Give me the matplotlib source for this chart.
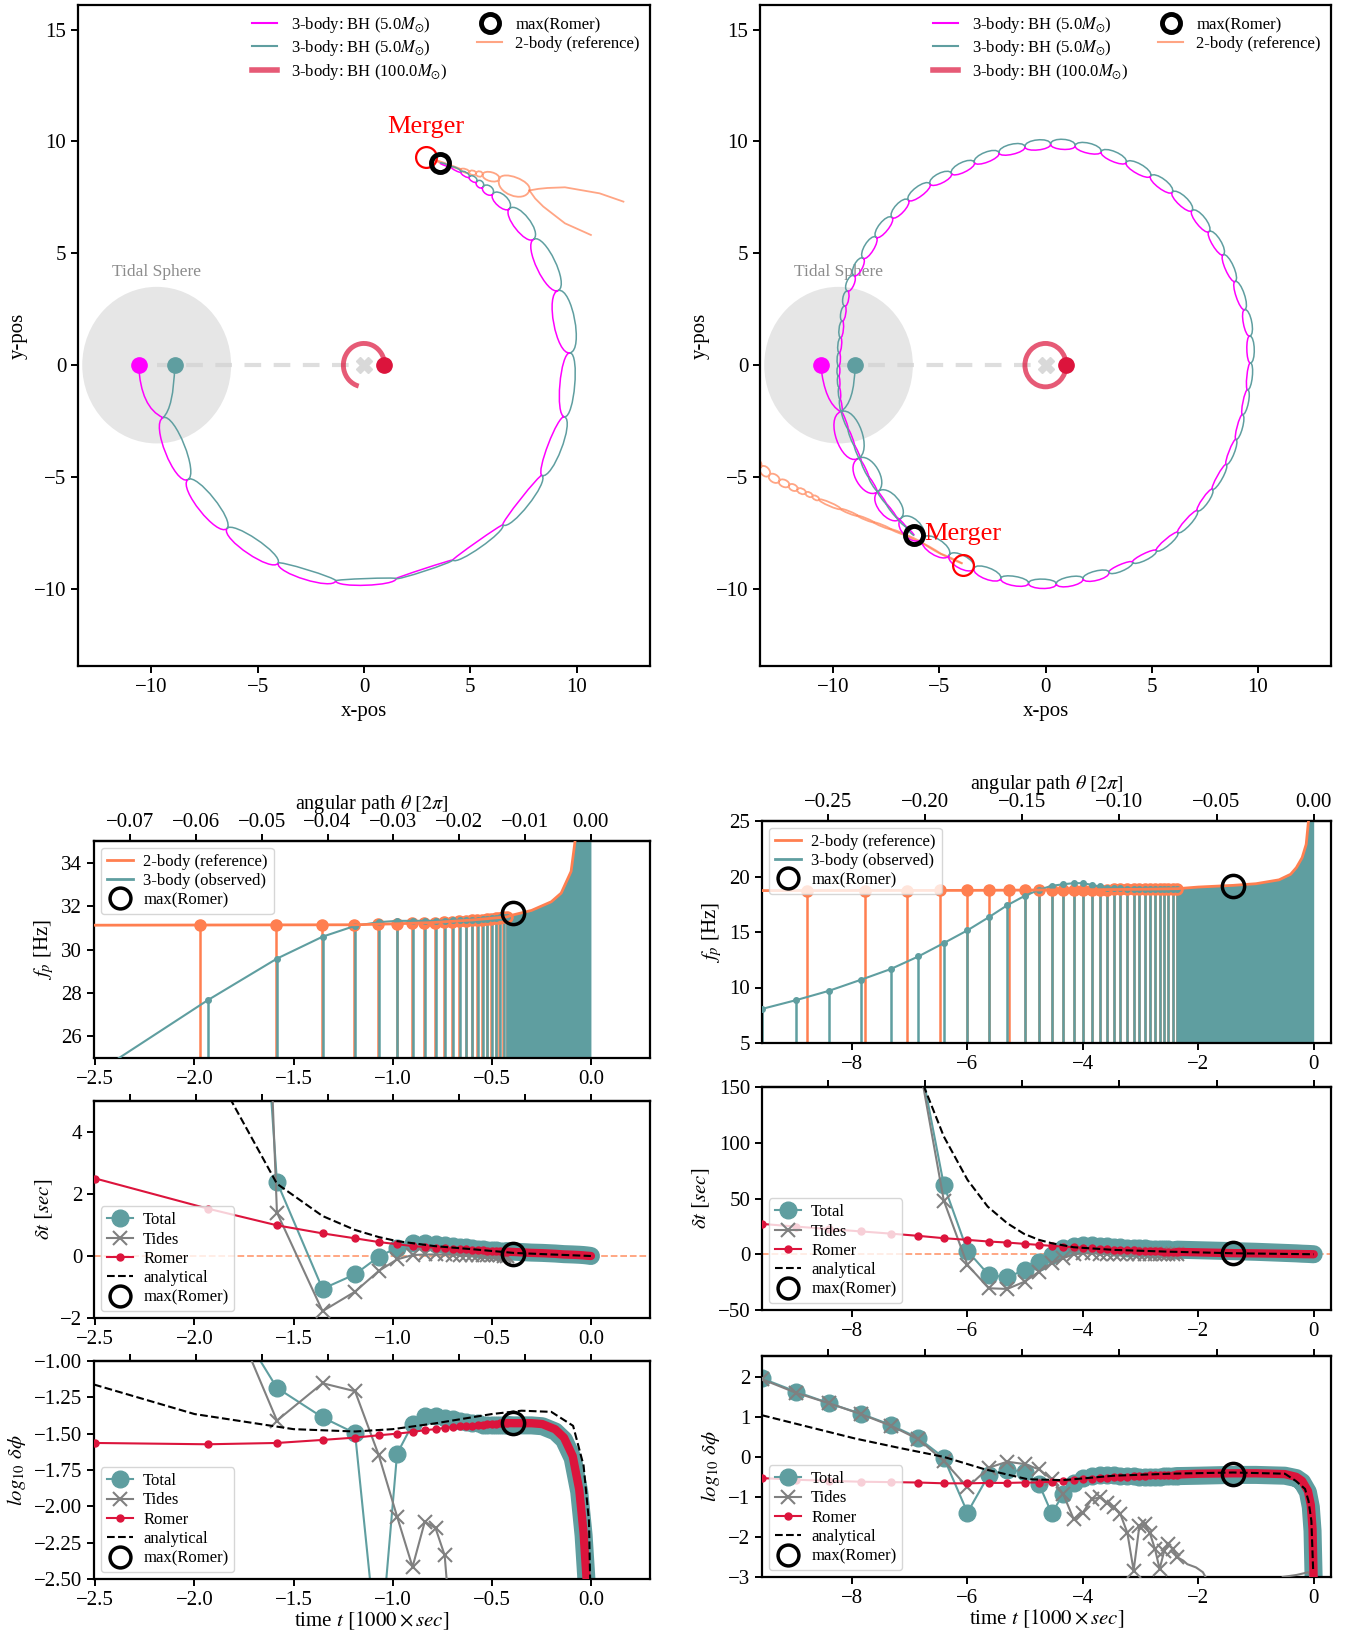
import numpy as np
import matplotlib
matplotlib.use('Agg')
import matplotlib.pyplot as plt
from matplotlib.path import Path
from matplotlib.patches import PathPatch, Circle, Arc
from matplotlib.lines import Line2D

plt.rcParams['font.family'] = ['Liberation Serif', 'DejaVu Serif']
plt.rcParams['mathtext.fontset'] = 'stix'
plt.rcParams['axes.linewidth'] = 1.6
plt.rcParams['xtick.major.width'] = 1.4
plt.rcParams['ytick.major.width'] = 1.4
plt.rcParams['xtick.major.size'] = 5
plt.rcParams['ytick.major.size'] = 5
plt.rcParams['xtick.labelsize'] = 15
plt.rcParams['ytick.labelsize'] = 15

MAG = 'magenta'
TEAL = 'cadetblue'
CRIM = 'crimson'
ORA = 'coral'

##################################################
# orbit panels: cusp points of the looping trajectories
##################################################
# left: merger after < 1 revolution
L_cx = [-9.45, -8.29, -6.45, -4.04, -1.33, 1.51, 4.18, 6.53, 8.37, 9.43, 9.69,
        9.14, 7.98, 6.84, 6.06, 5.59, 5.30, 4.95, 4.56, 4.10, 3.58]
L_cy = [-2.35, -5.12, -7.31, -8.85, -9.64, -9.54, -8.71, -7.14, -4.93, -2.31, 0.55,
        3.34, 5.63, 7.00, 7.66, 7.96, 8.20, 8.41, 8.63, 8.85, 9.03]
L_bulge_t = [0.45, 0.40, 0.35, 0.10, 0.05, -0.08, -0.25, -0.35, -0.40, -0.35,
             -0.50, -0.45, -0.40, -0.30, -0.22, -0.17, -0.14, -0.11, -0.08, -0.05]
L_bulge_m = [-0.50, -0.45, -0.40, -0.35, -0.25, 0.03, 0.05, 0.10, 0.25, 0.35,
             0.50, 0.45, 0.35, 0.25, 0.18, 0.14, 0.10, 0.08, 0.05, 0.03]
L_start_m = [(-10.6, 0.0), (-10.5, -1.9)]
L_start_t = [(-8.9, 0.0), (-8.95, -1.9)]
L_ref_cx = [3.15, 4.56, 4.95, 5.27, 5.58, 6.36, 7.78]
L_ref_cy = [9.22, 8.75, 8.63, 8.57, 8.52, 8.33, 7.81]
L_ref_up = [0.03, 0.08, 0.10, 0.12, 0.20, 0.33]
L_ref_lo = [-0.03, -0.08, -0.10, -0.12, -0.20, -0.50]
L_refA_x = [7.78, 8.2, 8.63, 9.45, 11.08, 12.2]
L_refA_y = [7.81, 7.88, 7.92, 7.95, 7.68, 7.31]
L_refB_x = [7.78, 8.05, 8.43, 9.45, 10.67]
L_refB_y = [7.81, 7.45, 7.09, 6.34, 5.82]
L_merger = (2.90, 9.29)
L_maxromer = (3.58, 9.03)
L_big_arc = 255  # degrees swept by the 100 Msun BH

# right: merger after > 1 revolution
R_cx = [-9.65, -8.86, -7.92, -6.82, -5.80, -4.54, -3.37, -2.11, -0.80, 0.51, 1.77,
        2.99, 4.10, 5.22, 6.23, 7.15, 7.86, 8.51, 8.97, 9.28, 9.52, 9.65, 9.62,
        9.38, 8.93, 8.37, 7.70, 6.90, 5.97, 4.95, 3.80, 2.62, 1.40, 0.24, -0.97,
        -2.19, -3.35, -4.43, -5.44, -6.46, -7.23, -7.98, -8.59, -9.02, -9.33, -9.45,
        -9.57, -9.65, -9.72, -9.74, -9.75, -9.72, -9.68, -9.60, -9.30, -9.00, -8.68,
        -8.33, -7.95, -7.50, -7.02, -6.60, -6.19]
R_cy = [-2.08, -4.19, -5.67, -6.86, -7.75, -8.50, -9.09, -9.54, -9.75, -9.78, -9.55,
        -9.26, -8.81, -8.29, -7.48, -6.51, -5.55, -4.44, -3.32, -2.21, -1.10, 0.10, 1.30,
        2.48, 3.74, 4.93, 5.97, 6.91, 7.73, 8.45, 9.06, 9.54, 9.81, 9.88, 9.76,
        9.49, 9.06, 8.57, 8.10, 7.38, 6.60, 5.72, 4.78, 4.00, 3.31, 2.64,
        1.97, 1.23, 0.56, -0.03, -0.48, -1.00, -1.52, -2.10, -2.85, -3.60, -4.30,
        -5.00, -5.60, -6.20, -6.80, -7.20, -7.61]
R_bulge_t = [0.62, 0.56, 0.50, 0.44, 0.36, 0.30, 0.26,
             0.20, 0.20, 0.20, 0.20,
             -0.18, -0.18, -0.18, -0.18, -0.18, -0.16, -0.16, -0.16, -0.16, -0.16,
             -0.20, -0.22, -0.22, -0.22, -0.24, -0.25, -0.25, -0.25, -0.25, -0.25, -0.25, -0.25,
             -0.25, -0.25, -0.25, -0.25, -0.25, -0.25, -0.25, -0.25, -0.25, -0.22,
             -0.20, -0.16, -0.14, -0.12, -0.10, -0.09, -0.08, -0.07, -0.06, -0.06,
             -0.05, -0.05, -0.05, -0.05, -0.05, -0.04, -0.04, -0.04, -0.04]
R_bulge_m = [-0.62, -0.56, -0.50, -0.44, -0.36, -0.30, -0.26,
             -0.22, -0.22, -0.22, -0.22,
             0.12, 0.12, 0.12, 0.12, 0.12, 0.10, 0.10, 0.10, 0.10, 0.10,
             0.15, 0.18, 0.18, 0.18, 0.18, 0.20, 0.20, 0.20, 0.20, 0.20, 0.20, 0.20,
             0.20, 0.20, 0.20, 0.20, 0.20, 0.20, 0.20, 0.20, 0.20, 0.18,
             0.16, 0.12, 0.10, 0.09, 0.08, 0.07, 0.06, 0.05, 0.05, 0.05,
             0.04, 0.04, 0.04, 0.04, 0.04, 0.03, 0.03, 0.03, 0.03]
R_start_m = [(-10.59, 0.0), (-10.4, -1.7)]
R_start_t = [(-8.97, 0.0), (-9.0, -1.7)]
R_ref_cx = [-13.8, -13.41, -13.02, -12.55, -12.08, -11.69, -11.30, -10.98, -10.67,
            -9.65, -8.86, -8.08, -7.30, -6.51, -5.73, -4.94, -3.91]
R_ref_cy = [-4.35, -4.56, -4.93, -5.19, -5.38, -5.56, -5.71, -5.86, -6.01,
            -6.43, -6.73, -7.03, -7.33, -7.62, -7.99, -8.43, -8.87]
R_ref_up = [0.22, 0.20, 0.18, 0.16, 0.14, 0.12, 0.10, 0.09, 0.08, 0.05,
            0.04, 0.04, 0.03, 0.03, 0.02, 0.02]
R_ref_lo = [-0.22, -0.20, -0.18, -0.16, -0.14, -0.12, -0.10, -0.09, -0.08, -0.05,
            -0.04, -0.04, -0.03, -0.03, -0.02, -0.02]
R_merger = (-3.88, -8.92)
R_maxromer = (-6.19, -7.61)
R_big_arc = 360

tidal_center = (-9.75, 0.0)
tidal_radius = 3.5
big_bh_start = (0.96, 0.0)
big_bh_radius = 0.97

##################################################
# time-domain panels  (t in 1000 sec)
##################################################
# ---------- left ----------
refT_L = [-1.970, -1.589, -1.357, -1.193, -1.072, -0.980, -0.902, -0.840, -0.786,
          -0.740, -0.700, -0.665, -0.632, -0.602, -0.573, -0.549, -0.525, -0.503,
          -0.481, -0.462, -0.442, -0.425]
refF_L = [31.12, 31.12, 31.13, 31.14, 31.16, 31.18, 31.20, 31.22, 31.24,
          31.26, 31.28, 31.30, 31.32, 31.34, 31.36, 31.38, 31.40, 31.42,
          31.44, 31.46, 31.48, 31.50]
refcurve_t_L = [-2.507, -1.2, -1.0, -0.8, -0.6, -0.425, -0.39, -0.3, -0.2, -0.15,
                -0.1, -0.08, -0.06, -0.04, 0.0]
refcurve_f_L = [31.12, 31.14, 31.18, 31.24, 31.36, 31.5, 31.6, 31.8, 32.2, 32.6,
                33.6, 35.0, 37.0, 40.0, 45.0]
obsT_L = [-2.500, -1.934, -1.584, -1.354, -1.190, -1.070, -0.978, -0.900, -0.838,
          -0.784, -0.738, -0.698, -0.663, -0.630, -0.600, -0.571, -0.547, -0.523,
          -0.501, -0.479, -0.460, -0.440, -0.423]
obsF_L = [24.29, 27.66, 29.58, 30.59, 31.09, 31.26, 31.32, 31.32, 31.32,
          31.32, 31.33, 31.34, 31.35, 31.36, 31.37, 31.38, 31.40, 31.42,
          31.44, 31.46, 31.48, 31.49, 31.50]
total_dt_L = [80, 35, 2.39, -1.06, -0.59, -0.02, 0.27, 0.41, 0.41, 0.38, 0.35, 0.32,
              0.30, 0.28, 0.26, 0.24, 0.22, 0.20, 0.19, 0.18, 0.17, 0.16, 0.15]
tides_dt_L = [90, 60, 1.40, -1.78, -1.15, -0.48, -0.11, 0.03, 0.05, 0.05, 0.05, 0.04,
              0.04, 0.03, 0.03, 0.03, 0.02, 0.02, 0.02, 0.02, 0.02, 0.01, 0.01]
romer_dt_L = [2.50, 1.53, 0.99, 0.73, 0.57, 0.45, 0.38, 0.32, 0.29, 0.27, 0.25, 0.23,
              0.22, 0.21, 0.20, 0.19, 0.18, 0.17, 0.16, 0.155, 0.15, 0.145, 0.14]
anaT_L = [-2.5, -1.934, -1.584, -1.354, -1.190, -1.070, -0.978, -0.79, -0.6, -0.39, -0.2, 0.0]
ana_dt_L = [16.0, 6.4, 2.33, 1.29, 0.84, 0.61, 0.48, 0.32, 0.22, 0.10, 0.05, 0.0]
total_lg_L = [-0.2, -0.41, -1.185, -1.388, -1.497, -3.1, -1.638, -1.435, -1.377, -1.377,
              -1.39, -1.40, -1.41, -1.42, -1.43, -1.43, -1.44, -1.44, -1.44, -1.44,
              -1.44, -1.44, -1.44]
tides_lg_L = [-0.1, -0.28, -1.41, -1.153, -1.208, -1.65, -2.07, -2.417, -2.105, -2.15,
              -2.336, -3.0, -3.5, -3.5, -3.5, -3.5, -3.5, -3.5, -3.5, -3.5, -3.5, -3.5, -3.5]
romer_lg_L = [-1.564, -1.573, -1.564, -1.543, -1.527, -1.511, -1.500, -1.488, -1.476,
              -1.469, -1.460, -1.455, -1.450, -1.447, -1.444, -1.440, -1.437, -1.435,
              -1.433, -1.431, -1.430, -1.428, -1.427]
ana_lgT_L = [-2.507, -2.0, -1.5, -1.19, -1.0, -0.79, -0.5, -0.35, -0.2, -0.09, -0.037, -0.01, -0.004]
ana_lg_L = [-1.162, -1.365, -1.469, -1.485, -1.469, -1.43, -1.365, -1.342, -1.35, -1.446,
            -1.72, -2.1, -2.5]
# dense tail, where the cycles are too short to separate
tailT_L = [-0.423, -0.39, -0.3, -0.245, -0.18, -0.136, -0.092, -0.059, -0.037, -0.022, -0.01, 0.0]
tail_total_dt_L = [0.15, 0.14, 0.11, 0.10, 0.08, 0.06, 0.05, 0.04, 0.03, 0.02, 0.01, 0.0]
tail_romer_dt_L = [0.14, 0.13, 0.10, 0.09, 0.07, 0.05, 0.04, 0.03, 0.02, 0.01, 0.005, 0.0]
tail_romer_lg_L = [-1.427, -1.428, -1.428, -1.434, -1.47, -1.527, -1.654, -1.885, -2.186,
                   -2.5, -3.0, -3.5]
tail_total_lg_L = [-1.44, -1.443, -1.443, -1.449, -1.485, -1.542, -1.669, -1.90, -2.20,
                   -2.52, -3.0, -3.5]
maxT_L = -0.392
max_vals_L = [31.68, 0.05, -1.43]
kTheta_L = 0.0301

# ---------- right ----------
refT_R = [-8.78, -7.78, -7.05, -6.47, -6.00, -5.62, -5.28, -5.01, -4.76, -4.54, -4.34,
          -4.16, -4.00, -3.85, -3.71, -3.59, -3.46, -3.35, -3.23, -3.12, -3.02, -2.93,
          -2.84, -2.75, -2.67, -2.59, -2.52, -2.44, -2.37]
refF_R = [18.73, 18.73, 18.73, 18.74, 18.74, 18.75, 18.75, 18.76, 18.77, 18.78, 18.79,
          18.80, 18.80, 18.81, 18.82, 18.82, 18.83, 18.84, 18.84, 18.85, 18.86, 18.86,
          18.87, 18.88, 18.88, 18.89, 18.89, 18.90, 18.90]
refcurve_t_R = [-9.56, -6.0, -4.0, -3.0, -2.37, -2.0, -1.4, -1.0, -0.6, -0.4, -0.3,
                -0.2, -0.13, -0.09, -0.06, 0.0]
refcurve_f_R = [18.73, 18.75, 18.80, 18.85, 18.90, 19.05, 19.2, 19.35, 19.7, 20.2, 20.8,
                21.7, 22.9, 25.0, 28.0, 40.0]
obsT_R = [-9.56, -8.97, -8.40, -7.85, -7.33, -6.85, -6.41, -6.00, -5.63, -5.31, -5.01,
          -4.76, -4.54, -4.34, -4.16, -4.00, -3.85, -3.71, -3.59, -3.46, -3.35, -3.23,
          -3.12, -3.02, -2.93, -2.84, -2.75, -2.67, -2.59, -2.52, -2.44, -2.37]
obsF_R = [8.07, 8.86, 9.70, 10.69, 11.66, 12.80, 14.0, 15.15, 16.33, 17.41, 18.25,
          18.80, 19.16, 19.30, 19.40, 19.40, 19.25, 19.10, 19.00, 18.95, 18.92, 18.90,
          18.90, 18.90, 18.90, 18.90, 18.90, 18.90, 18.90, 18.90, 18.90, 18.90]
total_dt_R = [1500, 1100, 800, 600, 400, 180, 62.3, 3.0, -18.6, -20.7, -14.1, -7.2,
              -0.9, 5.4, 7.5, 8.4, 8.0, 7.5, 7.0, 6.6, 6.3, 6.0, 5.8, 5.5, 5.3, 5.1,
              4.9, 4.7, 4.5, 4.4, 4.2, 4.1]
tides_dt_R = [1500, 1100, 800, 600, 400, 175, 48.2, -9.6, -30.5, -31.1, -24.6, -15.6,
              -8.1, -3.6, 0.0, 1.0, 0.8, 0.6, 0.5, 0.4, 0.3, 0.3, 0.2, 0.2, 0.2, 0.2,
              0.1, 0.1, 0.1, 0.1, 0.1, 0.1]
romer_dt_R = [27.2, 24.8, 22.6, 20.5, 18.5, 16.5, 14.4, 12.9, 11.4, 10.5, 9.3, 8.4,
              7.5, 6.9, 6.3, 5.8, 5.3, 4.9, 4.5, 4.2, 3.9, 3.6, 3.4, 3.2, 3.0, 2.8,
              2.7, 2.6, 2.4, 2.3, 2.2, 2.1]
anaT_R = [-9.56, -8.0, -7.2, -6.75, -6.41, -6.0, -5.65, -5.31, -5.02, -4.76, -4.54,
          -4.16, -3.46, -2.5, -1.4, -0.5, 0.0]
ana_dt_R = [900, 450, 250, 150, 105.7, 66.8, 42.8, 27.8, 18.3, 12.9, 9.9, 6.3, 3.9,
            2.3, 0.9, 0.3, 0.0]
total_lg_R = [1.96, 1.63, 1.34, 1.08, 0.80, 0.47, -0.02, -1.39, -0.45, -0.32, -0.37,
              -0.68, -1.41, -0.93, -0.66, -0.52, -0.47, -0.45, -0.45, -0.46, -0.47,
              -0.48, -0.48, -0.49, -0.49, -0.49, -0.49, -0.49, -0.48, -0.48, -0.48, -0.48]
tides_lg_R = [1.94, 1.60, 1.34, 1.07, 0.78, 0.44, -0.10, -0.76, -0.27, -0.12, -0.18,
              -0.31, -0.56, -0.93, -1.55, -1.39, -1.06, -1.01, -1.14, -1.26, -1.43,
              -1.89, -2.84, -1.72, -1.68, -1.90, -2.30, -2.80, -2.35, -2.18, -2.30, -2.50]
romer_lg_R = [-0.53, -0.57, -0.60, -0.62, -0.63, -0.64, -0.66, -0.66, -0.65, -0.65,
              -0.64, -0.64, -0.62, -0.60, -0.58, -0.55, -0.54, -0.53, -0.52, -0.51,
              -0.50, -0.49, -0.48, -0.47, -0.47, -0.46, -0.46, -0.45, -0.45, -0.44,
              -0.44, -0.44]
ana_lgT_R = [-9.56, -8.7, -7.95, -7.2, -6.41, -5.7, -4.95, -4.34, -3.46, -2.5, -1.4,
             -0.5, -0.31, -0.15, -0.09, -0.04, -0.01]
ana_lg_R = [1.04, 0.73, 0.46, 0.23, 0.0, -0.31, -0.56, -0.58, -0.47, -0.42, -0.39,
            -0.42, -0.6, -0.8, -1.1, -1.6, -2.8]
tailT_R = [-2.37, -2.0, -1.4, -1.0, -0.5, -0.3, -0.2, -0.1, -0.05, -0.02, 0.0]
tail_total_dt_R = [4.1, 3.6, 2.8, 2.2, 1.2, 0.8, 0.5, 0.3, 0.15, 0.05, 0.0]
tail_romer_dt_R = [2.1, 1.7, 1.0, 0.8, 0.4, 0.25, 0.15, 0.08, 0.04, 0.01, 0.0]
tail_tides_dt_R = [0.1, 0.1, 0.1, 0.05, 0.05, 0.0, 0.0, 0.0, 0.0, 0.0, 0.0]
tail_total_lg_R = [-0.48, -0.47, -0.45, -0.45, -0.47, -0.53, -0.63, -0.88, -1.25, -1.85, -3.1]
tail_romer_lg_R = [-0.44, -0.42, -0.41, -0.41, -0.43, -0.50, -0.60, -0.85, -1.20, -1.80, -3.1]
tail_tidesT_R = [-2.37, -2.26, -2.19, -2.04, -1.92, -1.80, -0.60, -0.54, -0.3, -0.09, 0.0]
tail_tides_lg_R = [-2.5, -2.59, -2.68, -2.76, -2.88, -3.2, -3.2, -3.0, -2.95, -2.88, -3.2]
maxT_R = -1.40
max_vals_R = [19.1, 0.9, -0.43]
kTheta_R = 0.0297


##################################################
def px_rect(l, t, r, b, W=1359, H=1632):
    return [l / W, 1 - b / H, (r - l) / W, (b - t) / H]


def lobes(start, cx, cy, bulge):
    # cubic bezier lobes between consecutive cusps
    verts = []
    codes = []
    if start is None:
        verts.append((cx[0], cy[0]))
        codes.append(Path.MOVETO)
    else:
        verts += [start[0], start[1], (cx[0], cy[0])]
        codes += [Path.MOVETO, Path.CURVE3, Path.CURVE3]
    for i in range(len(cx) - 1):
        p0 = np.array([cx[i], cy[i]])
        p1 = np.array([cx[i + 1], cy[i + 1]])
        d = p1 - p0
        n = np.array([-d[1], d[0]]) / np.hypot(d[0], d[1])
        c0 = p0 + n * bulge[i] * 4 / 3
        c1 = p1 + n * bulge[i] * 4 / 3
        verts += [tuple(c0), tuple(c1), tuple(p1)]
        codes += [Path.CURVE4] * 3
    return Path(verts, codes)


def orbit(ax, cx, cy, bm, bt, sm, st, rcx, rcy, rup, rlo, merger, maxr, arc_deg, branches):
    ax.add_patch(Circle(tidal_center, tidal_radius, color='0.9', zorder=0, lw=0))
    ax.text(tidal_center[0], 4.15, 'Tidal Sphere', color='0.55', fontsize=12.5,
            ha='center', va='center')
    ax.plot([tidal_center[0], 0], [0, 0], ls='--', color='0.82', lw=3, alpha=0.7,
            dashes=(4, 3), zorder=1)
    ax.plot(0, 0, 'X', color='0.85', ms=11, zorder=1)
    ax.add_patch(PathPatch(lobes(sm, cx, cy, bm), fill=False, ec=MAG, lw=1.1, zorder=3))
    ax.add_patch(PathPatch(lobes(st, cx, cy, bt), fill=False, ec=TEAL, lw=1.1, zorder=3))
    ax.add_patch(PathPatch(lobes(None, rcx, rcy, rup), fill=False, ec=ORA, alpha=0.7, lw=1.3, zorder=2))
    ax.add_patch(PathPatch(lobes(None, rcx, rcy, rlo), fill=False, ec=ORA, alpha=0.7, lw=1.3, zorder=2))
    for bx, by in branches:
        ax.plot(bx, by, color=ORA, alpha=0.7, lw=1.3, zorder=2)
    ax.add_patch(Arc((0, 0), 2 * big_bh_radius, 2 * big_bh_radius, theta1=0, theta2=arc_deg,
                     color=CRIM, alpha=0.7, lw=3.5, zorder=3))
    ax.plot(sm[0][0], sm[0][1], 'o', color=MAG, ms=11, zorder=5)
    ax.plot(st[0][0], st[0][1], 'o', color=TEAL, ms=11, zorder=5)
    ax.plot(*big_bh_start, 'o', color=CRIM, ms=11, zorder=5)
    ax.plot(*merger, 'o', mfc='none', mec='red', ms=15, mew=1.6, zorder=6)
    ax.text(merger[0], merger[1] + 1.35, 'Merger', color='red', fontsize=19,
            ha='center', va='center', zorder=7)
    ax.plot(*maxr, 'o', mfc='none', mec='black', ms=13, mew=3.5, zorder=7)
    ax.set_xlim(-13.45, 13.45)
    ax.set_ylim(-13.45, 16.1)
    ax.set_xticks([-10, -5, 0, 5, 10])
    ax.set_yticks([-10, -5, 0, 5, 10, 15])
    ax.set_xlabel('x-pos', fontsize=15)
    ax.set_ylabel('y-pos', fontsize=15)
    hs = [Line2D([], [], color=MAG, lw=1.5),
          Line2D([], [], color=TEAL, lw=1.5),
          Line2D([], [], color=CRIM, alpha=0.7, lw=4),
          Line2D([], [], ls='none', marker='o', mfc='none', mec='black', ms=13, mew=3.5),
          Line2D([], [], color=ORA, alpha=0.7, lw=1.5)]
    labs = [r'3-body: BH (5.0$M_{\odot}$)', r'3-body: BH (5.0$M_{\odot}$)',
            r'3-body: BH (100.0$M_{\odot}$)', 'max(Romer)', '2-body (reference)']
    ax.legend(hs, labs, ncol=2, loc='upper right', frameon=False, fontsize=12,
              columnspacing=1.8, borderaxespad=0.2, labelspacing=0.2,
              handlelength=1.5, handletextpad=0.8)


def top_axis(ax, k, ticks, show):
    sec = ax.secondary_xaxis('top', functions=(lambda t: t * k, lambda th: th / k))
    sec.set_xticks(ticks)
    sec.tick_params(pad=1.5)
    if show:
        sec.set_xlabel(r'angular path $\theta$ $[2\pi]$', fontsize=14.5, labelpad=3)
    else:
        sec.tick_params(labeltop=False)
    return sec


LEG = dict(fontsize=12, framealpha=0.8, edgecolor='0.8', labelspacing=0.2,
           handlelength=1.6, handletextpad=0.6, borderpad=0.35, borderaxespad=0.4)


def freq_panel(ax, refT, refF, rct, rcf, obsT, obsF, dense_from, ymin, maxT, maxv):
    ax.vlines(refT, ymin, refF, color=ORA, lw=1.8, zorder=2)
    ax.plot(refT, refF, 'o', color=ORA, ms=8, zorder=3)
    ax.vlines(obsT, ymin, obsF, color=TEAL, lw=1.8, zorder=2)
    ax.plot(obsT, obsF, 'o', color=TEAL, ms=4, zorder=3)
    rct = np.array(rct)
    rcf = np.array(rcf)
    ax.fill_between(rct, ymin, rcf, where=rct >= dense_from, color=TEAL, lw=0, zorder=2)
    ax.plot(obsT, obsF, color=TEAL, lw=1.5, zorder=3)
    ax.plot(rct, rcf, color=ORA, lw=2, zorder=4)
    ax.plot(maxT, maxv, 'o', mfc='none', mec='black', ms=16, mew=2.5, zorder=6)
    hs = [Line2D([], [], color=ORA, lw=2), Line2D([], [], color=TEAL, lw=2),
          Line2D([], [], ls='none', marker='o', mfc='none', mec='black', ms=15, mew=2.5)]
    ax.legend(hs, ['2-body (reference)', '3-body (observed)', 'max(Romer)'],
              loc='upper left', **LEG)
    ax.set_ylabel(r'$f_p$ [Hz]', fontsize=15)


def resid_panel(ax, obsT, tot, tid, rom, aT, ana, tT, ttot, trom, tidT, ttid, maxT, maxv, zero_line):
    if zero_line:
        ax.axhline(0, color='lightsalmon', ls='--', lw=1.3, zorder=1)
    ax.plot(tT, ttot, color=TEAL, lw=13, solid_capstyle='round', zorder=2)
    ax.plot(obsT, tot, '-o', color=TEAL, lw=1.5, ms=12, zorder=2)
    if tidT is not None:
        ax.plot(tidT, ttid, color='grey', lw=1.5, zorder=3)
    ax.plot(obsT, tid, '-x', color='grey', lw=1.5, ms=10, mew=1.5, zorder=3)
    ax.plot(tT, trom, color=CRIM, lw=6, solid_capstyle='round', zorder=4)
    ax.plot(obsT, rom, '-o', color=CRIM, lw=1.5, ms=5, zorder=4)
    ax.plot(aT, ana, '--', color='black', lw=1.5, zorder=5)
    ax.plot(maxT, maxv, 'o', mfc='none', mec='black', ms=16, mew=2.5, zorder=6)
    hs = [Line2D([], [], color=TEAL, marker='o', ms=12, lw=1.5),
          Line2D([], [], color='grey', marker='x', ms=10, mew=1.5, lw=1.5),
          Line2D([], [], color=CRIM, marker='o', ms=5, lw=1.5),
          Line2D([], [], color='black', ls='--', lw=1.5),
          Line2D([], [], ls='none', marker='o', mfc='none', mec='black', ms=15, mew=2.5)]
    ax.legend(hs, ['Total', 'Tides', 'Romer', 'analytical', 'max(Romer)'],
              loc='lower left', **LEG)


fig = plt.figure(figsize=(13.59, 16.32), dpi=100)

axL = fig.add_axes(px_rect(78, 5, 650, 666))
orbit(axL, L_cx, L_cy, L_bulge_m, L_bulge_t, L_start_m, L_start_t,
      L_ref_cx, L_ref_cy, L_ref_up, L_ref_lo, L_merger, L_maxromer, L_big_arc,
      [(L_refA_x, L_refA_y), (L_refB_x, L_refB_y)])
axR = fig.add_axes(px_rect(760, 5, 1331, 666))
orbit(axR, R_cx, R_cy, R_bulge_m, R_bulge_t, R_start_m, R_start_t,
      R_ref_cx, R_ref_cy, R_ref_up, R_ref_lo, R_merger, R_maxromer, R_big_arc, [])

# ---- left column ----
a1 = fig.add_axes(px_rect(94, 841, 650, 1058))
a2 = fig.add_axes(px_rect(94, 1101, 650, 1318))
a3 = fig.add_axes(px_rect(94, 1361, 650, 1579))
freq_panel(a1, refT_L, refF_L, refcurve_t_L, refcurve_f_L, obsT_L, obsF_L, -0.425, 25,
           maxT_L, max_vals_L[0])
a1.set_ylim(25, 35)
a1.set_yticks([26, 28, 30, 32, 34])
resid_panel(a2, obsT_L, total_dt_L, tides_dt_L, romer_dt_L, anaT_L, ana_dt_L,
            tailT_L, tail_total_dt_L, tail_romer_dt_L, None, None, maxT_L, max_vals_L[1], True)
a2.set_ylim(-2, 5)
a2.set_yticks([-2, 0, 2, 4])
a2.set_ylabel(r'$\delta t$ $[sec]$', fontsize=15)
resid_panel(a3, obsT_L, total_lg_L, tides_lg_L, romer_lg_L, ana_lgT_L, ana_lg_L,
            tailT_L, tail_total_lg_L, tail_romer_lg_L, None, None, maxT_L, max_vals_L[2], False)
a3.set_ylim(-2.5, -1.0)
a3.set_yticks([-2.5, -2.25, -2.0, -1.75, -1.5, -1.25, -1.0])
a3.set_ylabel(r'$log_{10}$ $\delta\phi$', fontsize=15)
a3.set_xlabel(r'time $t$ $[1000\times sec]$', fontsize=15, labelpad=0)
thL = [-0.07, -0.06, -0.05, -0.04, -0.03, -0.02, -0.01, 0.0]
for i, a in enumerate([a1, a2, a3]):
    a.set_xlim(-2.507, 0.298)
    a.set_xticks([-2.5, -2.0, -1.5, -1.0, -0.5, 0.0])
    top_axis(a, kTheta_L, thL, i == 0)

# ---- right column ----
b1 = fig.add_axes(px_rect(762, 821, 1331, 1043))
b2 = fig.add_axes(px_rect(762, 1087, 1331, 1310))
b3 = fig.add_axes(px_rect(762, 1356, 1331, 1577))
freq_panel(b1, refT_R, refF_R, refcurve_t_R, refcurve_f_R, obsT_R, obsF_R, -2.37, 5,
           maxT_R, max_vals_R[0])
b1.set_ylim(5, 25)
b1.set_yticks([5, 10, 15, 20, 25])
resid_panel(b2, obsT_R, total_dt_R, tides_dt_R, romer_dt_R, anaT_R, ana_dt_R,
            tailT_R, tail_total_dt_R, tail_romer_dt_R, tailT_R, tail_tides_dt_R,
            maxT_R, max_vals_R[1], True)
b2.set_ylim(-50, 150)
b2.set_yticks([-50, 0, 50, 100, 150])
b2.set_ylabel(r'$\delta t$ $[sec]$', fontsize=15)
resid_panel(b3, obsT_R, total_lg_R, tides_lg_R, romer_lg_R, ana_lgT_R, ana_lg_R,
            tailT_R, tail_total_lg_R, tail_romer_lg_R, tail_tidesT_R, tail_tides_lg_R,
            maxT_R, max_vals_R[2], False)
b3.set_ylim(-3, 2.52)
b3.set_yticks([-3, -2, -1, 0, 1, 2])
b3.set_ylabel(r'$log_{10}$ $\delta\phi$', fontsize=15)
b3.set_xlabel(r'time $t$ $[1000\times sec]$', fontsize=15, labelpad=0)
thR = [-0.25, -0.20, -0.15, -0.10, -0.05, 0.0]
for i, b in enumerate([b1, b2, b3]):
    b.set_xlim(-9.56, 0.3)
    b.set_xticks([-8, -6, -4, -2, 0])
    top_axis(b, kTheta_R, thR, i == 0)

fig.savefig('out.png', dpi=100, facecolor='white')
